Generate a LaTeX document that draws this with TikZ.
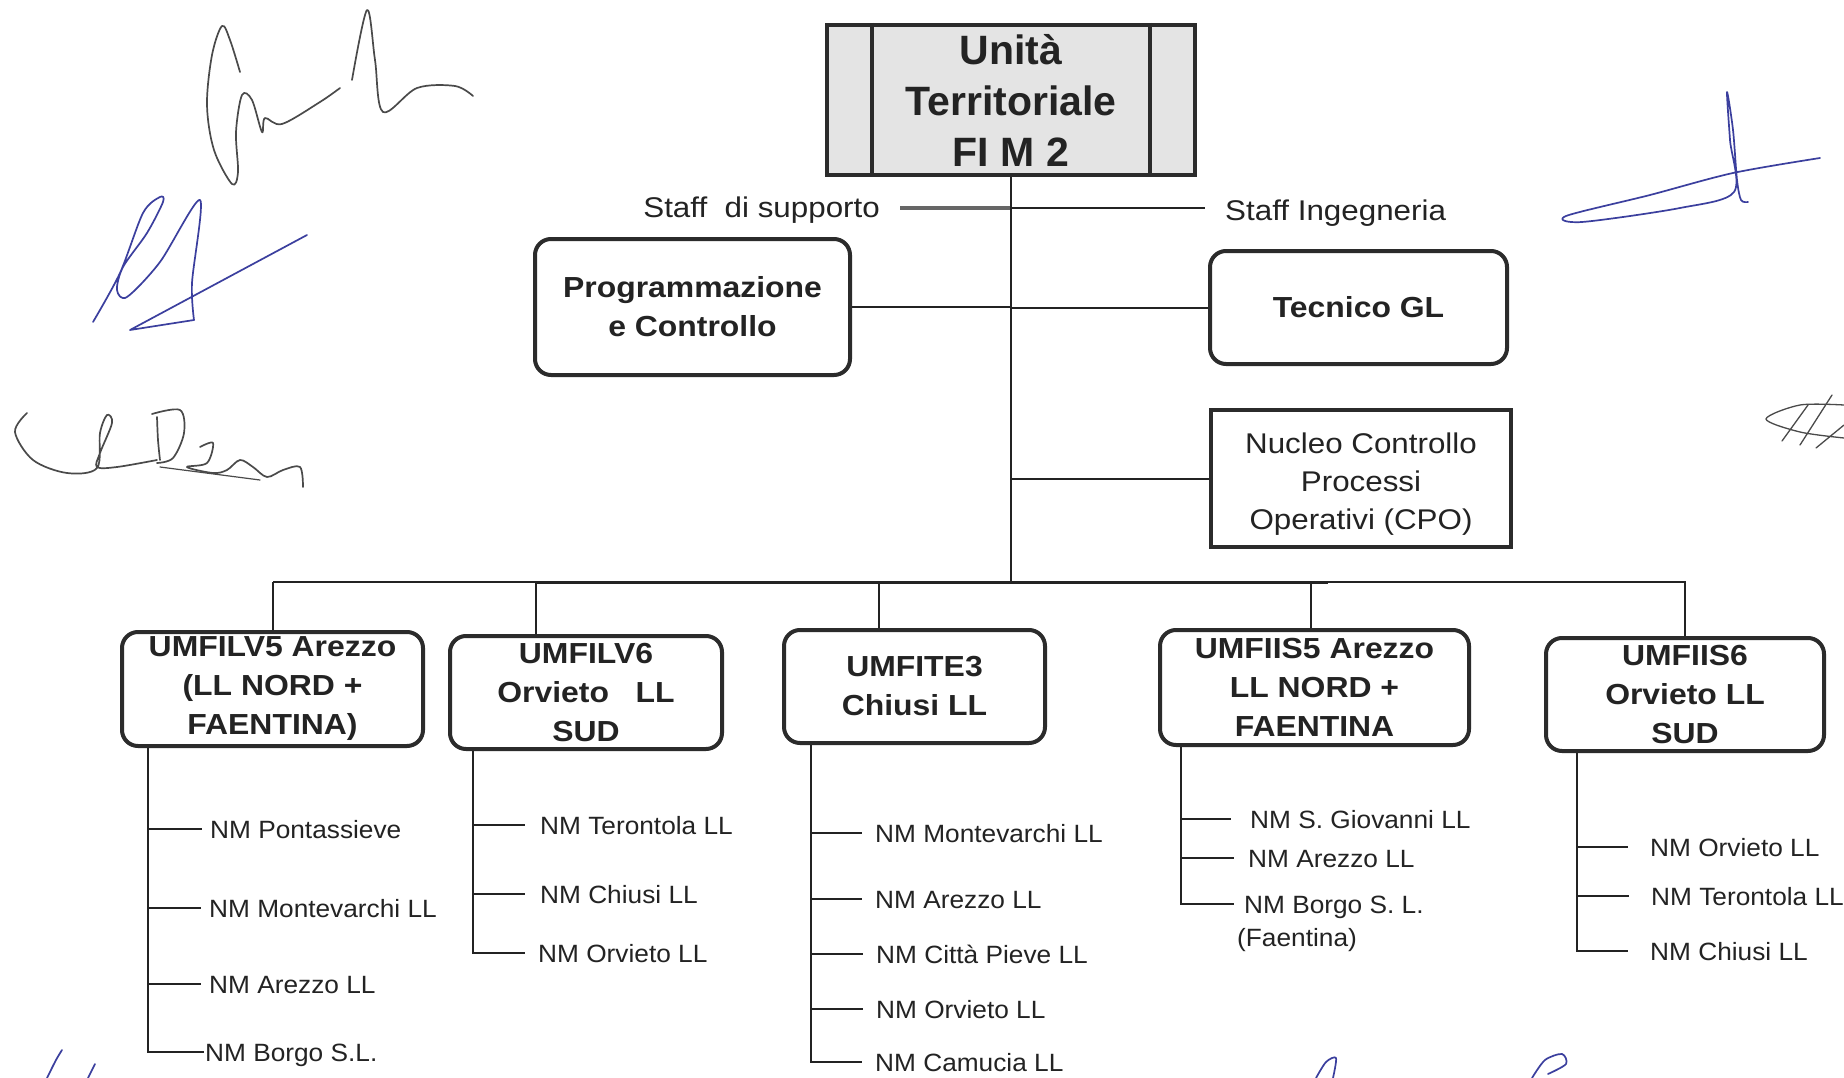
\documentclass[tikz,border=0pt]{standalone}
\usepackage{fontspec}
\setmainfont{Liberation Sans}
\newfontfamily\topf{Liberation Sans}
\newfontfamily\wf{Liberation Sans}[FakeStretch=1.1]
\newfontfamily\cf{Liberation Sans}[FakeStretch=1.05]
\definecolor{ink}{HTML}{232323}
\definecolor{edge}{HTML}{2B2B2B}
\definecolor{topfill}{HTML}{E4E4E4}
\definecolor{sigblue}{HTML}{3B3F9E}
\definecolor{siggray}{HTML}{4A4A4A}
\begin{document}
\begin{tikzpicture}[x=1pt,y=-1pt,
  conn/.style={draw=ink, line width=2pt},
  topbox/.style={draw=edge, line width=4pt, fill=topfill, align=center, text=ink, inner sep=0,
     font=\topf\bfseries\fontsize{41}{51}\selectfont},
  boxb/.style={draw=edge, line width=4pt, rounded corners=16pt, align=center, text=ink, inner sep=0,
     font=\wf\bfseries\fontsize{29}{39}\selectfont},
  boxp/.style={draw=edge, line width=4pt, align=center, text=ink, inner sep=0,
     font=\wf\fontsize{28.5}{38}\selectfont},
  lbl/.style={text=ink, inner sep=0, font=\wf\fontsize{28.5}{34}\selectfont},
  child/.style={anchor=west, text=ink, inner sep=0, text height=18pt, text depth=0pt,
     font=\cf\fontsize{25}{30}\selectfont},
  sig/.style={line width=1.7pt, line cap=round, line join=round}]
\useasboundingbox (0,0) rectangle (1844,1078);
\fill[white] (0,0) rectangle (1844,1078);

% ---- top box
\node[topbox, minimum width=368pt, minimum height=150pt] (top) at (1011,100)
  {Unità\\Territoriale\\FI M 2};
\draw[draw=edge, line width=4pt] ([xshift=47pt]top.north west) -- ([xshift=47pt]top.south west);
\draw[draw=edge, line width=4pt] ([xshift=-47pt]top.north east) -- ([xshift=-47pt]top.south east);

% ---- staff labels
\node[lbl, anchor=base east] (ssup) at (880,218) {Staff\ \ di supporto};
\node[lbl, anchor=base west] (sing) at (1225,220) {Staff Ingegneria};
\coordinate (sl) at (900,208);
\coordinate (sr) at (1205,208);
\draw[draw=gray!80!black, line width=3.5pt] (sl) -- (sl -| top.south);
\draw[conn] (sl -| top.south) -- (sr);

% ---- staff boxes
\node[boxb, minimum width=315pt, minimum height=136pt] (prog) at (692.5,307) {Programmazione\\e Controllo};
\node[boxb, minimum width=297pt, minimum height=113pt] (tec) at (1358.5,307.5) {Tecnico GL};
\node[boxp, minimum width=300pt, minimum height=137pt] (nuc) at (1361,478.5)
  {\raisebox{-5pt}[\height][\depth]{\begin{tabular}{@{}c@{}}Nucleo Controllo\\Processi\\Operativi (CPO)\end{tabular}}};

% ---- trunk and staff connectors
\coordinate (busL) at (273,582);
\coordinate (busR) at (1686,582);
\draw[conn] (top.south) -- (top.south |- busL);
\draw[conn] (prog.east) -- (prog.east -| top.south);
\draw[conn] (tec.west) -- (tec.west -| top.south);
\draw[conn] (nuc.west) -- (nuc.west -| top.south);

% ---- bus
\draw[conn] (busL) -- (busR);
\draw[draw=ink, line width=3pt] (536,582) -- (1328,582);

% ---- unit boxes
\node[boxb, minimum width=301pt, minimum height=114pt] (b1) at (272.5,689) {UMFILV5 Arezzo\\(LL NORD +\\FAENTINA)};
\node[boxb, minimum width=272pt, minimum height=113pt] (b2) at (586,692.5) {UMFILV6\\Orvieto\ \ \ LL\\SUD};
\node[boxb, minimum width=261pt, minimum height=113pt] (b3) at (914.5,686.5) {UMFITE3\\Chiusi LL};
\node[boxb, minimum width=309pt, minimum height=115pt] (b4) at (1314.5,687.5) {UMFIIS5 Arezzo\\LL NORD +\\FAENTINA};
\node[boxb, minimum width=278pt, minimum height=113pt] (b5) at (1685,694.5) {UMFIIS6\\Orvieto LL\\SUD};

\coordinate (b2t) at (536,0);
\coordinate (b3t) at (879,0);
\coordinate (b4t) at (1311,0);
\draw[conn] (b1.north) -- (b1.north |- busL);
\draw[conn] (b2.north -| b2t) -- (b2t |- busL);
\draw[conn] (b3.north -| b3t) -- (b3t |- busL);
\draw[conn] (b4.north -| b4t) -- (b4t |- busL);
\draw[conn] (b5.north) -- (b5.north |- busR);

% ---- children of b1
\node[child] (c1a) at (210,829) {NM Pontassieve};
\node[child] (c1b) at (209,908) {NM Montevarchi LL};
\node[child] (c1c) at (209,984) {NM Arezzo LL};
\node[child] (c1d) at (205,1052) {NM Borgo S.L.};
\coordinate (v1) at (148,0);
\draw[conn] (b1.south -| v1) |- ([xshift=-1pt]c1d.west);
\foreach \n in {c1a,c1b,c1c} \draw[conn] (\n.west -| v1) -- ([xshift=-8pt]\n.west);

% ---- children of b2
\node[child] (c2a) at (540,825) {NM Terontola LL};
\node[child] (c2b) at (540,894) {NM Chiusi LL};
\node[child] (c2c) at (538,953) {NM Orvieto LL};
\coordinate (v2) at (473,0);
\draw[conn] (b2.south -| v2) |- ([xshift=-13pt]c2c.west);
\foreach \n in {c2a,c2b} \draw[conn] (\n.west -| v2) -- ([xshift=-15pt]\n.west);

% ---- children of b3
\node[child] (c3a) at (875,833) {NM Montevarchi LL};
\node[child] (c3b) at (875,899) {NM Arezzo LL};
\node[child] (c3c) at (876,954) {NM Città Pieve LL};
\node[child] (c3d) at (876,1009) {NM Orvieto LL};
\node[child] (c3e) at (875,1062) {NM Camucia LL};
\coordinate (v3) at (811,0);
\draw[conn] (b3.south -| v3) |- ([xshift=-13pt]c3e.west);
\foreach \n in {c3a,c3b,c3c,c3d} \draw[conn] (\n.west -| v3) -- ([xshift=-13pt]\n.west);

% ---- children of b4
\node[child] (c4a) at (1250,819) {NM S. Giovanni LL};
\node[child] (c4b) at (1248,858) {NM Arezzo LL};
\node[child] (c4c) at (1244,904) {NM Borgo S. L.};
\node[child] (c4d) at (1237,937) {(Faentina)};
\coordinate (v4) at (1181,0);
\draw[conn] (b4.south -| v4) |- ([xshift=-10pt]c4c.west);
\draw[conn] (c4a.west -| v4) -- ([xshift=-19pt]c4a.west);
\draw[conn] (c4b.west -| v4) -- ([xshift=-14pt]c4b.west);

% ---- children of b5
\node[child] (c5a) at (1650,847) {NM Orvieto LL};
\node[child] (c5b) at (1651,896) {NM Terontola LL};
\node[child] (c5c) at (1650,951) {NM Chiusi LL};
\coordinate (v5) at (1577,0);
\draw[conn] (b5.south -| v5) |- ([xshift=-22pt]c5c.west);
\foreach \n in {c5a,c5b} \draw[conn] (\n.west -| v5) -- ([xshift=-22pt]\n.west);

% ---- signatures
\draw[sig, siggray] plot[smooth, tension=0.55] coordinates {(240,72) (230,40) (222,26) (212,55) (207,105) (214,150) (232,184) (238,172) (236,132) (242,95) (252,100) (262,132) (265,118) (282,124) (320,102) (340,88)};
\draw[sig, siggray] plot[smooth, tension=0.55] coordinates {(352,80) (367,10) (375,60) (383,112) (417,88) (455,86) (473,96)};
\draw[sig, sigblue] plot[smooth, tension=0.5] coordinates {(93,322) (120,273) (143,213) (160,197) (163,202) (147,233) (123,267) (117,290) (127,297) (160,262) (200,200) (192,283) (194,320)};
\draw[sig, sigblue] (194,320) -- (130,330) -- (307,235);
\draw[sig, siggray] plot[smooth, tension=0.55] coordinates {(27,413) (15,432) (33,460) (67,473) (97,468) (100,433) (107,415) (112,423) (100,453) (97,467) (117,467) (157,460)};
\draw[sig, siggray] plot[smooth, tension=0.55] coordinates {(157,417) (158,440) (160,460)};
\draw[sig, siggray] plot[smooth, tension=0.55] coordinates {(152,414) (180,410) (184,433) (173,458) (157,463)};
\draw[sig, siggray] plot[smooth, tension=0.55] coordinates {(200,447) (213,443) (207,463) (187,467) (213,473) (227,470) (240,460) (253,467) (267,477) (283,470) (300,467) (303,487)};
\draw[sig, siggray, line width=1.2pt] (160,467) -- (260,480);
\draw[sig, sigblue] plot[smooth, tension=0.5] coordinates {(1820,158) (1733,173) (1650,195) (1566,216) (1582,222) (1680,208) (1734,192) (1730,140) (1727,92) (1733,130) (1737,180) (1741,200) (1748,202)};
\draw[sig, siggray, line width=1.3pt] plot[smooth, tension=0.5] coordinates {(1844,405) (1800,405) (1766,419) (1800,432) (1844,438)};
\draw[sig, siggray, line width=1.3pt] (1782,441) -- (1808,405) (1800,445) -- (1832,395) (1816,448) -- (1844,425);
\draw[sig, sigblue] plot[smooth] coordinates {(47,1078) (56,1060) (62,1050)};
\draw[sig, sigblue] plot[smooth] coordinates {(88,1078) (95,1064)};
\draw[sig, sigblue] plot[smooth] coordinates {(1316,1078) (1326,1062) (1336,1058) (1333,1078)};
\draw[sig, sigblue] plot[smooth] coordinates {(1532,1078) (1545,1060) (1562,1054) (1566,1064) (1548,1074)};
\end{tikzpicture}
\end{document}
